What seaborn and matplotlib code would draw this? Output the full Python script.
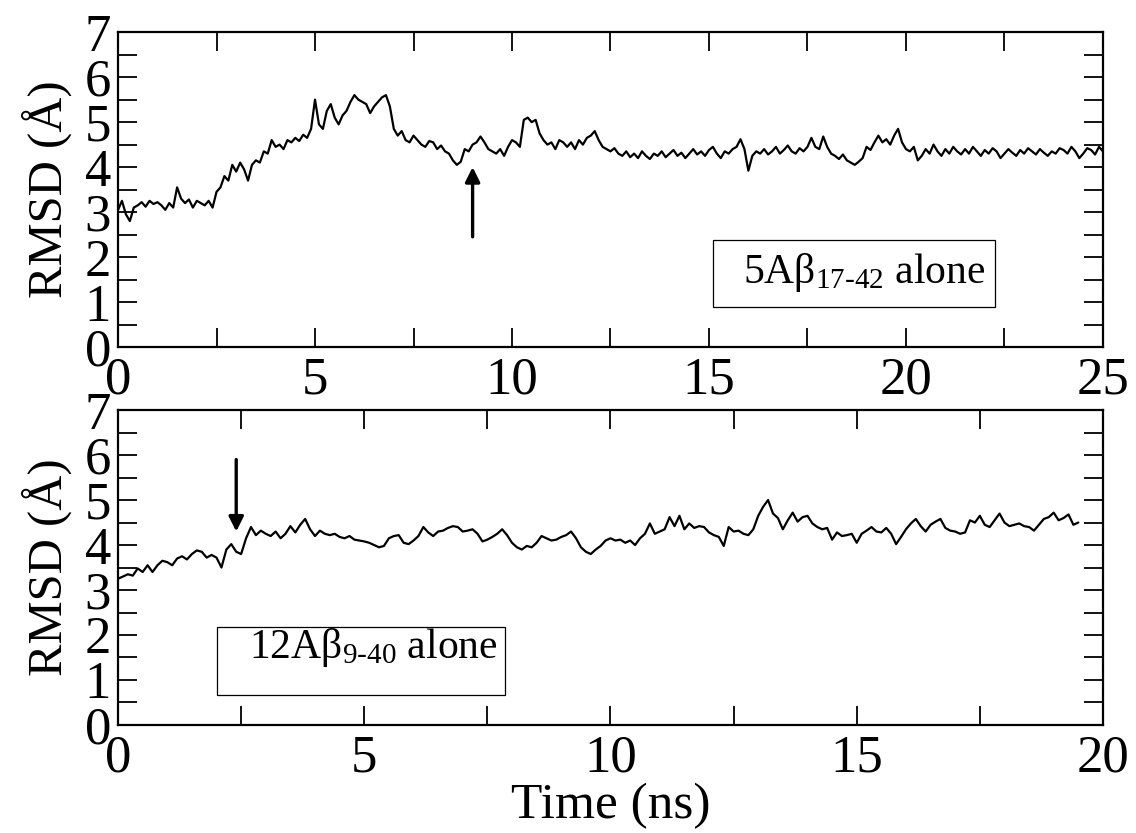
import numpy as np
import matplotlib
matplotlib.use("Agg")
import matplotlib.pyplot as plt
from matplotlib.patches import Rectangle
from matplotlib.ticker import MultipleLocator
import seaborn as sns

# RMSD traces, one value every 0.1 ns
rmsd_5ab = [
    3.05, 3.25, 2.95, 2.80, 3.10, 3.15, 3.22, 3.12, 3.25, 3.18,
    3.22, 3.15, 3.05, 3.20, 3.10, 3.55, 3.30, 3.20, 3.28, 3.10,
    3.25, 3.20, 3.15, 3.25, 3.10, 3.45, 3.55, 3.80, 3.70, 4.05,
    3.90, 4.10, 3.95, 3.70, 4.05, 4.15, 4.10, 4.35, 4.30, 4.60,
    4.45, 4.50, 4.40, 4.60, 4.55, 4.65, 4.58, 4.72, 4.65, 4.85,
    5.50, 4.95, 4.85, 5.25, 5.40, 5.10, 4.95, 5.15, 5.25, 5.45,
    5.60, 5.50, 5.45, 5.40, 5.20, 5.35, 5.45, 5.55, 5.60, 5.35,
    4.85, 4.70, 4.80, 4.60, 4.55, 4.70, 4.60, 4.50, 4.45, 4.58,
    4.55, 4.40, 4.48, 4.35, 4.30, 4.15, 4.05, 4.12, 4.40, 4.35,
    4.50, 4.55, 4.68, 4.55, 4.40, 4.35, 4.30, 4.40, 4.25, 4.45,
    4.60, 4.55, 4.45, 5.05, 5.10, 5.00, 5.05, 4.75, 4.60, 4.50,
    4.55, 4.40, 4.60, 4.55, 4.45, 4.55, 4.40, 4.60, 4.50, 4.65,
    4.70, 4.80, 4.60, 4.45, 4.40, 4.35, 4.42, 4.30, 4.25, 4.35,
    4.22, 4.30, 4.20, 4.35, 4.25, 4.18, 4.30, 4.25, 4.35, 4.22,
    4.30, 4.38, 4.25, 4.32, 4.20, 4.30, 4.40, 4.28, 4.35, 4.25,
    4.38, 4.45, 4.30, 4.20, 4.35, 4.30, 4.40, 4.45, 4.62, 4.40,
    3.92, 4.25, 4.35, 4.30, 4.40, 4.28, 4.35, 4.45, 4.30, 4.38,
    4.48, 4.35, 4.30, 4.42, 4.35, 4.45, 4.65, 4.45, 4.40, 4.68,
    4.45, 4.30, 4.25, 4.18, 4.28, 4.15, 4.10, 4.05, 4.12, 4.20,
    4.45, 4.38, 4.55, 4.70, 4.55, 4.62, 4.50, 4.70, 4.85, 4.55,
    4.40, 4.35, 4.45, 4.15, 4.25, 4.40, 4.30, 4.50, 4.35, 4.25,
    4.40, 4.30, 4.45, 4.35, 4.28, 4.40, 4.30, 4.45, 4.35, 4.25,
    4.38, 4.30, 4.42, 4.35, 4.20, 4.30, 4.40, 4.32, 4.25, 4.38,
    4.30, 4.42, 4.35, 4.28, 4.40, 4.32, 4.25, 4.35, 4.30, 4.42,
    4.38, 4.30, 4.45, 4.35, 4.20, 4.30, 4.42, 4.38, 4.28, 4.45,
    4.35,
]

rmsd_12ab = [
    3.25, 3.30, 3.35, 3.32, 3.48, 3.40, 3.55, 3.40, 3.55, 3.65,
    3.62, 3.55, 3.70, 3.75, 3.68, 3.80, 3.88, 3.85, 3.72, 3.78,
    3.72, 3.50, 3.90, 4.02, 3.85, 3.80, 4.15, 4.40, 4.22, 4.32,
    4.25, 4.20, 4.30, 4.15, 4.25, 4.42, 4.28, 4.45, 4.58, 4.35,
    4.20, 4.32, 4.25, 4.22, 4.25, 4.18, 4.15, 4.20, 4.12, 4.10,
    4.08, 4.05, 4.00, 3.95, 3.98, 4.15, 4.20, 4.22, 4.05, 4.02,
    4.10, 4.20, 4.40, 4.28, 4.20, 4.30, 4.32, 4.38, 4.42, 4.40,
    4.30, 4.32, 4.35, 4.25, 4.08, 4.12, 4.18, 4.25, 4.35, 4.22,
    4.05, 3.95, 3.90, 3.98, 3.95, 4.05, 4.20, 4.15, 4.10, 4.12,
    4.18, 4.22, 4.30, 4.15, 3.95, 3.85, 3.80, 3.90, 3.98, 4.10,
    4.15, 4.10, 4.12, 4.05, 4.10, 4.00, 4.15, 4.25, 4.48, 4.25,
    4.30, 4.35, 4.62, 4.42, 4.65, 4.35, 4.48, 4.38, 4.42, 4.40,
    4.28, 4.22, 4.18, 3.98, 4.40, 4.30, 4.32, 4.25, 4.22, 4.35,
    4.65, 4.85, 5.00, 4.70, 4.60, 4.35, 4.55, 4.72, 4.52, 4.62,
    4.65, 4.48, 4.40, 4.35, 4.38, 4.12, 4.28, 4.20, 4.22, 4.25,
    4.05, 4.25, 4.32, 4.40, 4.30, 4.28, 4.38, 4.25, 4.02, 4.18,
    4.35, 4.48, 4.58, 4.42, 4.30, 4.45, 4.52, 4.58, 4.38, 4.32,
    4.30, 4.25, 4.28, 4.55, 4.50, 4.65, 4.45, 4.40, 4.55, 4.70,
    4.50, 4.42, 4.45, 4.48, 4.42, 4.40, 4.32, 4.45, 4.58, 4.62,
    4.72, 4.55, 4.60, 4.68, 4.45, 4.50,
]

dt = 0.1
time_5ab = np.arange(len(rmsd_5ab)) * dt
time_12ab = np.arange(len(rmsd_12ab)) * dt

labels = ["5A\u03b2$_{17\u201042}$ alone", "12A\u03b2$_{9\u201040}$ alone"]
xmax = [25, 20]
# arrows: (time, tail, tip)
arrows = [(9.0, 2.45, 4.0), (2.4, 5.9, 4.3)]

sns.set_style("ticks")
plt.rcParams["font.family"] = ["Liberation Serif", "DejaVu Serif"]
plt.rcParams["mathtext.fontset"] = "custom"
plt.rcParams["mathtext.rm"] = "Liberation Serif"
plt.rcParams["mathtext.default"] = "regular"
for key in ["text.color", "axes.labelcolor", "xtick.color", "ytick.color",
            "axes.edgecolor"]:
    plt.rcParams[key] = "black"

fig = plt.figure(figsize=(11.36, 8.33), dpi=100)
ax1 = fig.add_axes([0.1039, 0.5834, 0.867, 0.378])
ax2 = fig.add_axes([0.1039, 0.1297, 0.867, 0.378])

series = [(time_5ab, rmsd_5ab), (time_12ab, rmsd_12ab)]
boxes = [(0.604, 0.127, 0.286, 0.213), (0.1005, 0.095, 0.2925, 0.216)]
text_pos = [(0.6345, 0.203), (0.133, 0.213)]

for i, ax in enumerate([ax1, ax2]):
    t, r = series[i]
    sns.lineplot(x=t, y=r, ax=ax, color="black", linewidth=1.6, sort=False)
    ax.set_xlim(0, xmax[i])
    ax.set_ylim(0, 7)
    ax.xaxis.set_major_locator(MultipleLocator(5))
    ax.xaxis.set_minor_locator(MultipleLocator(2.5))
    ax.yaxis.set_major_locator(MultipleLocator(1))
    ax.yaxis.set_minor_locator(MultipleLocator(0.5))
    ax.tick_params(which="both", direction="in", top=True, right=True,
                   length=14, width=1.3, labelsize=38)
    ax.tick_params(axis="x", pad=7)
    ax.tick_params(axis="y", pad=5)
    for s in ax.spines.values():
        s.set_linewidth(1.6)
    ax.set_ylabel("RMSD (\u00c5)", fontsize=35, labelpad=9)

    bx, by, bw, bh = boxes[i]
    ax.add_patch(Rectangle((bx, by), bw, bh, transform=ax.transAxes,
                           fill=False, edgecolor="black", linewidth=0.9))
    ax.text(text_pos[i][0], text_pos[i][1], labels[i], transform=ax.transAxes,
            fontsize=30, va="baseline", ha="left")

    at, tail, tip = arrows[i]
    ax.annotate("", xy=(at, tip), xytext=(at, tail),
                arrowprops=dict(arrowstyle="-|>", color="black", lw=2.4,
                                mutation_scale=22, shrinkA=0, shrinkB=0))

ax2.set_xlabel("Time (ns)", fontsize=37, labelpad=0)

fig.savefig("out.png", dpi=100)
